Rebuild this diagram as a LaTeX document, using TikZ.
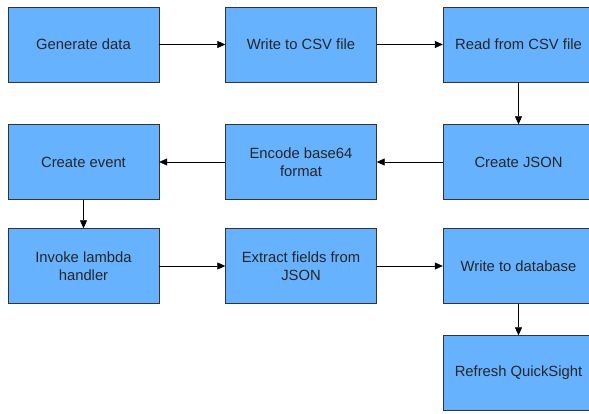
\documentclass[tikz,border=0pt]{standalone}
\usepackage{fontspec}
\setmainfont{Liberation Sans}
\usetikzlibrary{arrows.meta}
\definecolor{boxblue}{HTML}{66B2FF}
\begin{document}
\begin{tikzpicture}[x=1pt, y=-1pt,
	stepbox/.style={draw=black!80, fill=boxblue, minimum width=151pt, minimum height=75pt, align=center, font=\fontsize{14.8}{18}\selectfont, text=black!85, inner sep=0pt},
	flow/.style={-{Triangle[length=8pt, width=7pt]}, semithick}]
			\useasboundingbox (0,0) rectangle (589,414);
			
			\node[stepbox] (generate) at (83.5,44.5) {Generate data};
			\node[stepbox] (writecsv) at (301,44.5) {Write to CSV file};
			\node[stepbox] (readcsv) at (518.5,44.5) {Read from CSV file};
			
			\node[stepbox] (event) at (83.5,162) {Create event};
			\node[stepbox] (encode) at (301,162) {Encode base64\\format};
			\node[stepbox] (json) at (518.5,162) {Create JSON};
			
			\node[stepbox] (invoke) at (83.5,266) {Invoke lambda\\handler};
			\node[stepbox] (extract) at (301,266) {Extract fields from\\JSON};
			\node[stepbox] (database) at (518.5,266) {Write to database};
			
			\node[stepbox] (refresh) at (518.5,373) {Refresh QuickSight};
			
			\draw[flow] (generate) -- (writecsv);
			\draw[flow] (writecsv) -- (readcsv);
			\draw[flow] (readcsv) -- (json);
			\draw[flow] (json) -- (encode);
			\draw[flow] (encode) -- (event);
			\draw[flow] (event) -- (invoke);
			\draw[flow] (invoke) -- (extract);
			\draw[flow] (extract) -- (database);
			\draw[flow] (database) -- (refresh);
		\end{tikzpicture}
\end{document}
